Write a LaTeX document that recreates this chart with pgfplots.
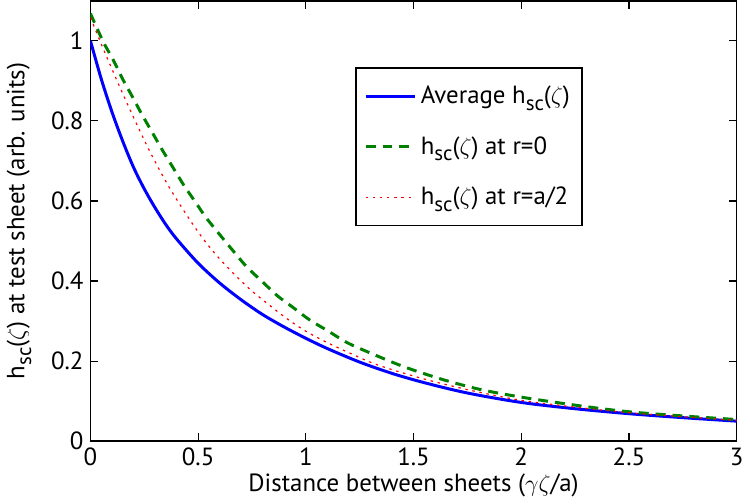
\documentclass[border=0pt]{standalone}
\usepackage{fontspec}
\setmainfont{PT Sans}
\usepackage{pgfplots}
\pgfplotsset{compat=1.18}
\definecolor{mgreen}{RGB}{0,128,0}
\newcommand{\hsc}{h\raisebox{-0.55ex}{\fontsize{10.5}{11}\selectfont sc}}
\begin{document}
\begin{tikzpicture}
\begin{axis}[
    scale only axis,
    width=325pt, height=221.5pt,
    xmin=0, xmax=3, ymin=0, ymax=1.1,
    xtick={0,0.5,...,3},
    ytick={0,0.2,...,1},
    tick align=inside,
    tick pos=both,
    major tick length=4pt,
    axis line style={line width=0.8pt},
    every tick/.style={black, line width=0.6pt},
    /pgf/number format/assume math mode=true,
    tick label style={font=\fontsize{12.5}{14}\selectfont},
    label style={font=\fontsize{12.5}{14}\selectfont},
    xlabel={Distance between sheets ($\gamma\zeta$/a)},
    ylabel={\hsc($\zeta$) at test sheet (arb. units)},
    xlabel style={yshift=3pt},
    ylabel style={yshift=3pt},
    legend cell align=left,
    legend style={
        at={(0.41,0.849)}, anchor=north west,
        font=\fontsize{12.5}{14}\selectfont,
        draw=black, line width=0.8pt,
        row sep=11pt,
        inner xsep=4pt, inner ysep=7pt,
    },
    legend image code/.code={\draw[#1] (0pt,0pt) -- (25pt,0pt);},
]
\addplot[blue, line width=1.5pt, smooth] coordinates {
(0,1.0) (0.05,0.905) (0.1,0.822) (0.15,0.749) (0.2,0.684) (0.25,0.63)
(0.3,0.583) (0.35,0.541) (0.4,0.505) (0.5,0.4445) (0.6,0.395) (0.7,0.353)
(0.8,0.316) (0.9,0.285) (1.0,0.257) (1.1,0.2313) (1.25,0.1975) (1.4,0.1693)
(1.55,0.1461) (1.75,0.1203) (2.0,0.0967) (2.25,0.081) (2.5,0.0686)
(2.75,0.0587) (3.0,0.05)
};
\addlegendentry{Average \hsc($\zeta$)}
\addplot[mgreen, line width=1.5pt, dash pattern=on 5pt off 3.5pt, smooth] coordinates {
(0,1.068) (0.058,0.999) (0.105,0.953) (0.148,0.906) (0.194,0.861)
(0.24,0.815) (0.286,0.772) (0.335,0.726) (0.385,0.682) (0.435,0.638)
(0.489,0.596) (0.543,0.554) (0.666,0.473) (0.728,0.434) (0.797,0.399)
(0.866,0.364) (0.943,0.333) (1.02,0.302) (1.104,0.275) (1.185,0.248)
(1.274,0.226) (1.45,0.187) (1.635,0.154) (1.811,0.129) (2.0,0.110)
(2.25,0.090) (2.489,0.074) (2.75,0.063) (3.0,0.054)
};
\addlegendentry{\hsc($\zeta$) at r=0}
\addplot[red, line width=0.6pt, dash pattern=on 1.2pt off 2.4pt, smooth] coordinates {
(0,1.058) (0.058,0.982) (0.131,0.891) (0.205,0.803) (0.283,0.716)
(0.369,0.631) (0.465,0.55) (0.528,0.502) (0.597,0.457) (0.666,0.418)
(0.743,0.378) (0.828,0.341) (0.912,0.306) (1.005,0.273) (1.104,0.245)
(1.204,0.220) (1.335,0.190) (1.551,0.155) (1.781,0.125) (2.0,0.102)
(2.25,0.085) (2.5,0.071) (2.75,0.061) (3.0,0.052)
};
\addlegendentry{\hsc($\zeta$) at r=a/2}
\end{axis}
\end{tikzpicture}
\end{document}
